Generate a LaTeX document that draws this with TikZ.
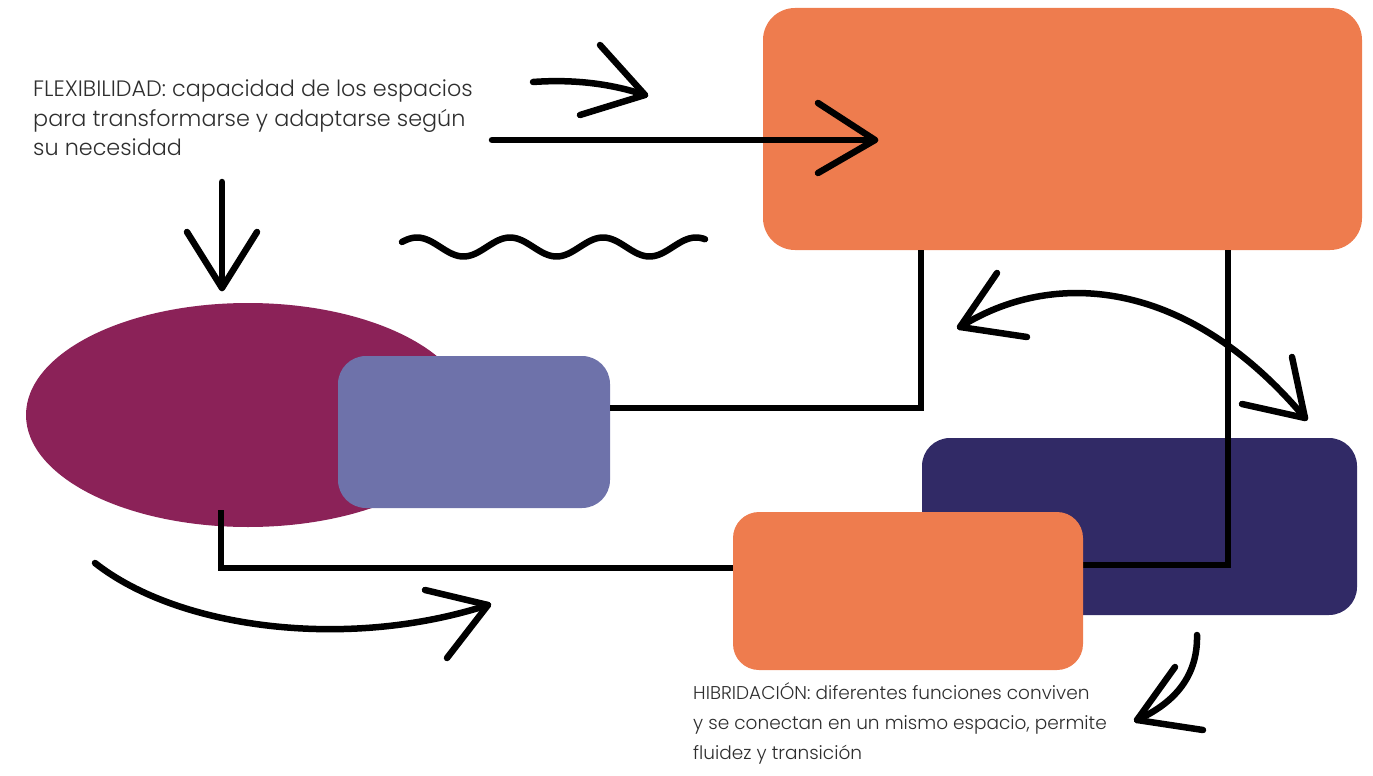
\documentclass[tikz,border=0pt]{standalone}
\usepackage{fontspec}
\setmainfont{Poppins Light}
\usetikzlibrary{shapes.geometric}
\definecolor{burnt}{HTML}{EE7C4E}
\definecolor{plum}{HTML}{8B2258}
\definecolor{periwinkle}{HTML}{6E72AA}
\definecolor{ink}{HTML}{312A66}
\definecolor{textgray}{HTML}{2E2E2E}
\begin{document}
\begin{tikzpicture}[x=1pt,y=-1pt,
  box/.style={draw=none, rounded corners=28pt, inner sep=0pt},
  wire/.style={line width=6pt, draw=black},
  stroke/.style={line width=6.5pt, draw=black, line cap=round, line join=round},
  note/.style={inner sep=0pt, align=left, text=textgray}]
\path[use as bounding box] (0,0) rectangle (1373,776);

% shapes
\node[ellipse, fill=plum, inner sep=0pt, minimum width=444pt, minimum height=224pt] (ell) at (248,415) {};
\node[box, fill=periwinkle, minimum width=272pt, minimum height=152pt] (lav) at (474,432) {};
\node[box, fill=burnt, minimum width=599pt, minimum height=242pt, rounded corners=32pt] (top) at (1062.5,129) {};
\node[box, fill=ink, minimum width=435pt, minimum height=177pt] (navy) at (1139.5,526.5) {};

% connectors
\coordinate (k1) at (921,408);
\coordinate (k2) at (1228,565);
\coordinate (k3) at (221,568);
\draw[wire] (lav.east |- k1) -- (k1) -- (k1 |- top.south);
\draw[wire] (k2 |- top.south) -- (k2) -- (1083,565);
\draw[wire] (k3 |- 0,510) -- (k3) -- (740,568);

\node[box, fill=burnt, minimum width=350pt, minimum height=158pt, rounded corners=26pt] (bot) at (908,591) {};

% arrows
\coordinate (a1s) at (533,82); \coordinate (a1t) at (645,95);
\draw[stroke] (a1s) .. controls (575,79) and (612,84) .. (a1t);
\draw[stroke] (600,45) -- (a1t) -- (580,115);

\coordinate (a2s) at (492,140); \coordinate (a2t) at (875,140);
\draw[stroke] (a2s) -- (a2t);
\draw[stroke] (818,103) -- (a2t) -- (818,173);

\coordinate (a3s) at (222,182); \coordinate (a3t) at (222,288);
\draw[stroke] (a3s) -- (a3t);
\draw[stroke] (187,232) -- (a3t) -- (257,232);

\draw[stroke] plot[domain=402:705, samples=120, smooth] (\x, {247-9.5*cos(3.871*(\x-417))});

\coordinate (a4l) at (960,327); \coordinate (a4r) at (1305,418);
\draw[stroke] (a4l) .. controls (1050,270) and (1185,275) .. (a4r);
\draw[stroke] (997,273) -- (a4l) -- (1027,337);
\draw[stroke] (1292,357) -- (a4r) -- (1242,404);

\coordinate (a5s) at (95,563); \coordinate (a5t) at (488,605);
\draw[stroke] (a5s) .. controls (180,630) and (350,650) .. (a5t);
\draw[stroke] (425,590) -- (a5t) -- (447,658);

\coordinate (a6s) at (1197,635); \coordinate (a6t) at (1137,720);
\draw[stroke] (a6s) .. controls (1198,680) and (1170,705) .. (a6t);
\draw[stroke] (1175,667) -- (a6t) -- (1203,730);

% texts
\node[note, anchor=north west, font=\fontsize{22.3pt}{29.5pt}\selectfont] (flex) at (33,80) {FLEXIBILIDAD: capacidad de los espacios\\para transformarse y adaptarse según\\su necesidad};
\node[note, anchor=north west, font=\fontsize{18.5pt}{30pt}\selectfont] (hib) at (693,682) {HIBRIDACIÓN: diferentes funciones conviven\\y se conectan en un mismo espacio, permite\\fluidez y transición};
\end{tikzpicture}
\end{document}
